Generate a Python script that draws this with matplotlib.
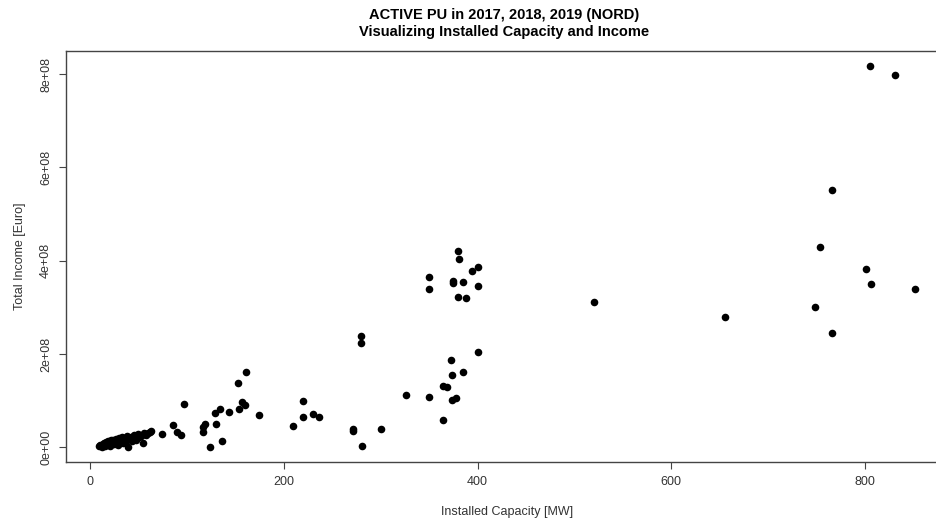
"""Scatter of installed capacity against total income for active PU (NORD)."""

from matplotlib import pyplot as plt

plt.rcParams["font.family"] = ["Liberation Sans", "DejaVu Sans"]

# installed capacity [MW] and total income [Euro]
capacity_mw = [
    9, 10, 12, 13, 14, 15, 16, 17, 18, 19, 20, 21, 22, 23, 24, 25, 26, 27,
    28, 29, 30, 31, 32, 33, 34, 35, 36, 37, 38, 39, 40, 42, 43, 45, 46, 48,
    50, 51, 53, 55, 56, 58, 60, 63,
    62, 74.4, 85.8, 90.2, 93.7, 96.8, 116.5, 117, 118.5, 124.4, 129.5, 130,
    134.4, 136.8, 144, 153, 154, 156.8, 160, 161, 174, 209.8, 219.8, 219.8,
    229.8, 236, 271.5, 271.5, 280, 280, 280.8, 300, 326.6, 350, 364.5, 364.5,
    368, 373, 374, 374, 377.6, 384.5, 400, 350, 350, 375, 375, 385, 380,
    380.7, 400, 394.8, 400, 380, 388,
    520.6, 655.6, 748.6, 753, 765.5, 766, 801, 805, 806.5, 831, 851,
]
income_eur = [
    3e6, 6e6, 2e6, 8e6, 5e6, 10e6, 4e6, 12e6, 7e6, 14e6, 9e6, 3e6, 15e6,
    11e6, 17e6, 8e6, 13e6, 19e6, 16e6, 6e6, 20e6, 12e6, 18e6, 22e6, 9e6,
    16e6, 21e6, 14e6, 24e6, 2e6, 19e6, 23e6, 13e6, 26e6, 18e6, 15e6, 28e6,
    22e6, 25e6, 9e6, 30e6, 27e6, 32e6, 36e6,
    3.3e7, 2.8e7, 4.9e7, 3.4e7, 2.7e7, 9.3e7, 3.3e7, 4.4e7, 5.0e7, 1.5e6,
    7.4e7, 5.0e7, 8.3e7, 1.3e7, 7.5e7, 1.39e8, 8.3e7, 9.7e7, 9.1e7, 1.61e8,
    6.9e7, 4.7e7, 1.0e8, 6.6e7, 7.2e7, 6.6e7, 3.9e7, 3.5e7, 2.38e8, 2.23e8,
    3.7e6, 3.9e7, 1.12e8, 1.08e8, 5.8e7, 1.32e8, 1.30e8, 1.88e8, 1.56e8,
    1.01e8, 1.06e8, 1.61e8, 2.05e8, 3.66e8, 3.40e8, 3.56e8, 3.52e8, 3.55e8,
    4.21e8, 4.03e8, 3.86e8, 3.78e8, 3.47e8, 3.23e8, 3.20e8,
    3.11e8, 2.79e8, 3.02e8, 4.29e8, 5.51e8, 2.45e8, 3.83e8, 8.17e8, 3.51e8,
    7.99e8, 3.40e8,
]

x_ticks = [0, 200, 400, 600, 800]
y_ticks = [0, 2e8, 4e8, 6e8, 8e8]
y_tick_labels = ["0e+00", "2e+08", "4e+08", "6e+08", "8e+08"]

TEXT = "#333333"

figure = plt.figure(figsize=(9.36, 5.23), dpi=100)
# right edge of the box runs past the image, as in the original export
axis = figure.add_axes([0.0705, 0.1166, 0.9415, 0.786])

axis.scatter(capacity_mw, income_eur, s=30, color="black", linewidths=0)

# R style 4% padding on both axes
x_pad = 0.04 * (max(capacity_mw) - min(capacity_mw))
y_pad = 0.04 * (max(income_eur) - min(income_eur))
axis.set_xlim(min(capacity_mw) - x_pad, max(capacity_mw) + x_pad)
axis.set_ylim(min(income_eur) - y_pad, max(income_eur) + y_pad)

axis.set_xticks(x_ticks)
axis.set_yticks(y_ticks)
axis.set_yticklabels(y_tick_labels, rotation=90, va="center")
axis.tick_params(length=5, width=0.8, color="#444444", labelcolor=TEXT,
                 labelsize=9, pad=5)

for spine in axis.spines.values():
    spine.set_linewidth(1.0)
    spine.set_color("#444444")

axis.set_xlabel("Installed Capacity [MW]", fontsize=9, color=TEXT, labelpad=13)
axis.set_ylabel("Total Income [Euro]", fontsize=9, color=TEXT, labelpad=10)

figure.text(0.539, 0.971, "ACTIVE PU in 2017, 2018, 2019 (NORD)",
            ha="center", va="center", fontsize=10.5, fontweight="bold")
figure.text(0.539, 0.938, "Visualizing Installed Capacity and Income",
            ha="center", va="center", fontsize=10.5, fontweight="bold")

figure.savefig("out.png", dpi=100)
